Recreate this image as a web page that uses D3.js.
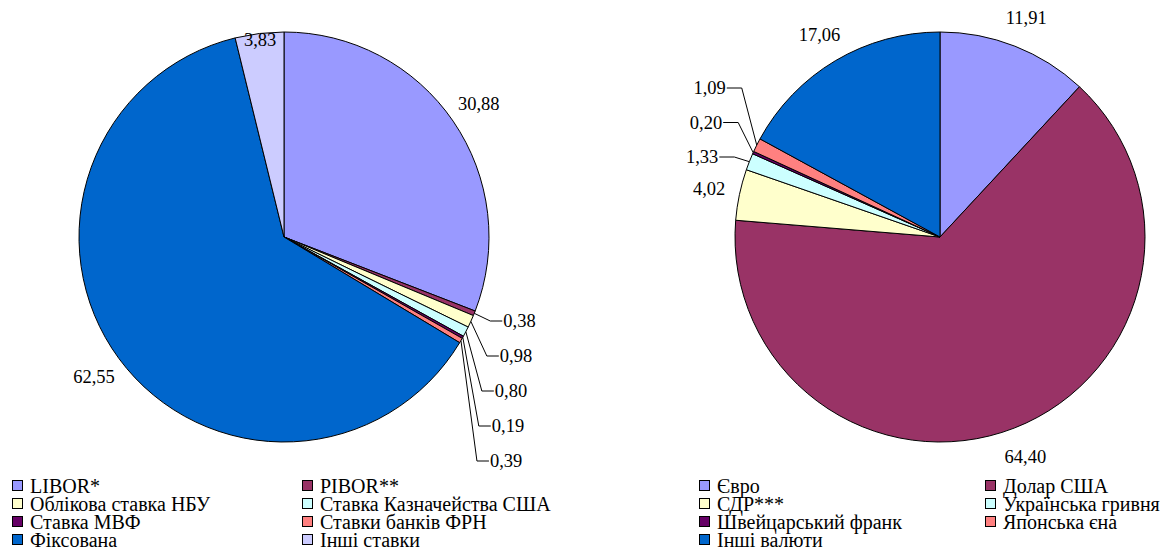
<!DOCTYPE html>
<html><head><meta charset="utf-8">
<script src="https://cdn.jsdelivr.net/npm/d3@7"></script>
<style>
body{margin:0;background:#fff}
svg{display:block}
</style>
</head><body><svg id="c" width="1163" height="558" style="font-family:'Liberation Serif','Times New Roman',Times,'DejaVu Serif',serif"></svg>
<script>
// ---- data ----
const rateCategories = ["LIBOR*","PIBOR**","Облікова ставка НБУ","Ставка Казначейства США","Ставка МВФ","Ставки банків ФРН","Фіксована","Інші ставки"];
const rateValues = [30.88,0.38,0.98,0.80,0.19,0.39,62.55,3.83];
const rateLabels = ["30,88","0,38","0,98","0,80","0,19","0,39","62,55","3,83"];
const rateColors = ["#9999FF","#993366","#FFFFCC","#CCFFFF","#660066","#FF8080","#0066CC","#CCCCFF"];

const currencyCategories = ["Євро","Долар США","СДР***","Українська гривня","Швейцарський франк","Японська єна","Інші валюти"];
const currencyValues = [11.91,64.40,4.02,1.33,0.20,1.09,17.06];
const currencyLabels = ["11,91","64,40","4,02","1,33","0,20","1,09","17,06"];
const currencyColors = ["#9999FF","#993366","#FFFFCC","#CCFFFF","#660066","#FF8080","#0066CC"];

const FONT = "'Liberation Serif','Times New Roman',Times,'DejaVu Serif',serif";
const svg = d3.select("#c");

function drawPie(o){
  const g = svg.append("g").attr("transform",`translate(${o.cx},${o.cy})`);
  const pie = d3.pie().sort(null).value(d=>d.v);
  const data = pie(o.values.map((v,i)=>({v,i})));
  const arc = d3.arc().innerRadius(0).outerRadius(o.r);
  g.selectAll("path.s").data(data).enter().append("path")
    .attr("class","s")
    .attr("d",arc)
    .attr("fill",d=>o.colors[d.data.i])
    .attr("stroke","#000").attr("stroke-width",1).attr("stroke-linejoin","round");

  const mid = d=>(d.startAngle+d.endAngle)/2;
  const pt = (a,R)=>[Math.sin(a)*R,-Math.cos(a)*R];

  data.forEach(d=>{
    const i=d.data.i;
    if(o.leader.idx.includes(i)) return;
    const R = o.inner.includes(i)? o.innerR : o.labelR;
    const [x,y]=pt(mid(d),R);
    g.append("text").attr("x",x).attr("y",y).attr("dy","0.35em")
      .attr("text-anchor","middle").attr("font-family",FONT).attr("font-size",o.fs).text(o.labels[i]);
  });

  o.leader.idx.forEach((i,k)=>{
    const d=data[i];
    const [ex,ey]=pt(mid(d),o.r);
    const ly = o.leader.y0 - o.cy + k*o.leader.step;
    const elx = ex + o.leader.dx;
    const tx = elx + o.leader.tdx;
    g.append("polyline")
      .attr("points",[[ex,ey],[elx,ly],[tx+(o.leader.dir>0?-1:1),ly]].map(p=>p.join(",")).join(" "))
      .attr("fill","none").attr("stroke","#000").attr("stroke-width",1);
    g.append("text").attr("x",tx).attr("y",ly).attr("dy","0.35em")
      .attr("text-anchor",o.leader.dir>0?"start":"end")
      .attr("font-family",FONT).attr("font-size",o.fs).text(o.labels[i]);
  });

  const lg = svg.append("g");
  o.cats.forEach((c,i)=>{
    const col=i%2,row=Math.floor(i/2);
    const x=o.legX[col], y=o.legY0+row*o.legStep;
    lg.append("rect").attr("x",x+0.5).attr("y",y-5.5).attr("width",10).attr("height",10)
      .attr("fill",o.colors[i]).attr("stroke","#000").attr("stroke-width",1);
    lg.append("text").attr("x",x+18).attr("y",y).attr("dy","0.35em")
      .attr("font-family",FONT).attr("font-size",o.lfs).text(c);
  });
}

drawPie({
  cx:284, cy:237, r:205, values:rateValues, labels:rateLabels, colors:rateColors, cats:rateCategories,
  labelR:236, inner:[7], innerR:199, fs:18.5,
  leader:{idx:[1,2,3,4,5], y0:321, step:35, dx:16, tdx:13, dir:1},
  legX:[12,302], legY0:486, legStep:18, lfs:20
});
drawPie({
  cx:940, cy:237, r:205, values:currencyValues, labels:currencyLabels, colors:currencyColors, cats:currencyCategories,
  labelR:236, inner:[], innerR:0, fs:18.5,
  leader:{idx:[3,4,5], y0:157, step:-34.5, dx:-15, tdx:-16, dir:-1},
  legX:[699,985], legY0:486, legStep:18, lfs:20
});
</script>
</body></html>
